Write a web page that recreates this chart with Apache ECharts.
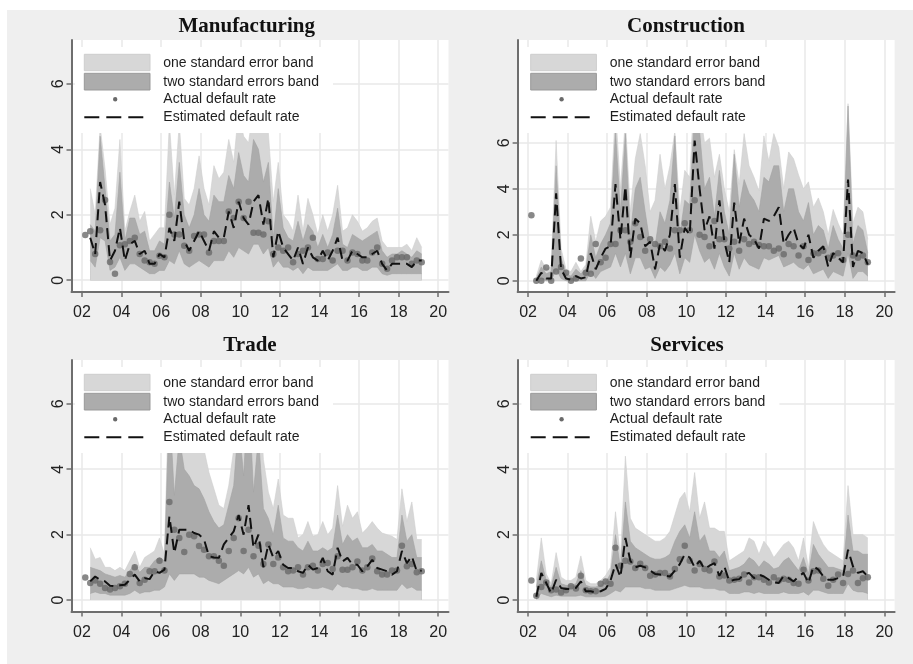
<!DOCTYPE html>
<html><head><meta charset="utf-8">
<script src="https://cdn.jsdelivr.net/npm/echarts@6/dist/echarts.min.js"></script>
<style>html,body{margin:0;padding:0;background:#fff}#c{width:913px;height:664px}</style>
</head><body><div id="c"></div>
<script>
// quarter-end months, 2002-03 .. 2019-03
const quarters = [];
for (let y = 2002; y <= 2019; y++) for (const m of [3, 6, 9, 12]) { if (y === 2019 && m > 3) break; quarters.push(y + '-' + String(m).padStart(2, '0')); }
const xTicks = [2002, 2004, 2006, 2008, 2010, 2012, 2014, 2016, 2018, 2020];
const yTicks = [0, 2, 4, 6];
const legendLabels = ['one standard error band', 'two standard errors band', 'Actual default rate', 'Estimated default rate'];
const panelTitles = ['Manufacturing', 'Construction', 'Trade', 'Services'];
const _ = null;

// Manufacturing
const mfgActual = [1.38,1.5,0.8,1.53, 2.45,0.56,0.2,1.07, 1.1,1.2,1.3,0.8, 0.6,0.55,0.5,0.75, 0.7,2.0,1.4,1.4, 1.05,0.9,1.35,1.4, 1.4,0.85,1.2,1.2, 1.2,2.1,1.9,2.4, 1.9,2.4,1.45,1.45, 1.4,1.8,0.8,1.0, 0.9,1.0,0.55,0.8, 0.9,1.0,1.3,0.65, 0.65,0.85,0.6,0.9, 0.9,0.6,0.85,0.8, 0.6,0.6,0.85,1.0, 0.5,0.35,0.6,0.7, 0.7,0.7,0.5,0.6, 0.55];
const mfgEst = [_,1.3,0.8,3.0, 2.3,0.6,0.9,1.6, 0.6,1.1,1.2,0.8, 0.9,0.5,0.5,0.8, 0.7,1.6,1.2,2.4, 1.2,0.9,1.2,1.5, 1.2,0.9,1.5,1.3, 1.3,2.1,1.6,2.4, 1.9,1.7,2.4,2.6, 1.7,2.5,0.7,1.5, 1.0,0.8,0.6,1.0, 0.5,1.0,0.7,0.6, 0.9,0.6,0.9,1.3, 0.6,0.6,0.9,0.8, 0.7,0.7,0.8,0.9, 0.5,0.3,0.5,0.5, 0.5,0.5,0.4,0.6, 0.6];
const mfgInnerLo = [_,0.6,0.4,1.3, 1.2,0.3,0.4,0.7, 0.3,0.5,0.5,0.4, 0.3,0.2,0.2,0.3, 0.3,0.6,0.5,0.9, 0.5,0.4,0.5,0.6, 0.5,0.4,0.6,0.6, 0.6,0.9,0.7,1.0, 0.9,0.8,1.1,1.1, 0.8,1.0,0.4,0.6, 0.4,0.4,0.3,0.4, 0.2,0.4,0.3,0.3, 0.3,0.3,0.4,0.5, 0.3,0.3,0.4,0.4, 0.3,0.3,0.4,0.4, 0.2,0.15,0.2,0.2, 0.2,0.2,0.2,0.2, 0.2];
const mfgInnerHi = [_,1.7,1.5,4.4, 2.8,1.2,1.4,3.3, 1.2,1.9,1.9,1.4, 1.5,0.9,0.9,1.2, 1.1,3.0,1.9,3.6, 2.0,1.6,2.0,2.8, 2.0,1.8,2.6,2.4, 2.4,3.2,2.8,3.9, 3.2,3.0,4.3,4.0, 3.0,3.6,1.3,2.8, 1.6,1.3,1.2,1.8, 1.2,1.7,1.5,1.0, 1.4,1.0,1.4,2.2, 1.1,1.0,1.4,1.3, 1.2,1.3,1.4,1.5, 0.9,0.7,0.8,0.8, 0.9,0.8,0.7,0.9, 0.8];
const mfgOuterHi = [_,2.8,2.0,4.7, 3.4,1.7,2.2,4.3, 1.5,2.1,2.6,1.8, 2.1,1.2,1.4,1.6, 1.6,4.8,2.6,4.8, 2.5,2.3,2.8,3.8, 2.8,2.3,3.5,3.1, 3.3,4.3,3.6,5.2, 4.4,4.2,5.3,5.4, 5.0,4.5,2.4,3.6, 2.0,1.8,1.5,2.6, 1.5,2.5,2.0,1.4, 2.0,1.5,2.0,2.9, 1.5,1.6,2.0,1.8, 1.5,1.6,1.8,1.9, 1.2,1.0,1.0,1.0, 1.0,1.1,0.9,1.3, 1.0];

// Construction
const conActual = [2.85,0,0,0.58, 0,0.4,0.6,0.35, 0,0.1,0.97,0.35, 0.3,1.6,0.8,1.0, 1.6,1.6,2.2,2.2, 1.7,2.5,1.9,1.3, 1.8,1.6,1.5,1.7, 1.4,2.2,2.2,2.5, 2.2,3.5,2.0,1.9, 1.5,2.6,1.8,1.8, 1.4,1.7,1.3,1.8, 1.6,1.7,1.55,1.5, 1.5,1.3,1.4,1.15, 1.6,1.5,1.1,1.5, 0.9,1.2,1.2,1.3, 1.0,1.1,1.2,0.9, 2.0,1.1,1.0,1.1, 0.8];
const conEst = [_,0,0.35,0.1, 0.1,3.8,0.5,0.1, 0.05,0.2,0.1,0.15, 1.2,0.5,1.0,1.4, 1.5,4.2,1.8,4.1, 1.0,2.7,2.5,1.5, 1.7,0.5,1.6,1.3, 2.0,4.2,1.0,2.3, 2.0,6.1,4.0,2.2, 2.8,1.4,3.5,1.7, 0.8,3.4,1.6,2.7, 2.0,1.8,1.4,2.7, 2.6,2.8,3.2,1.6, 2.0,2.3,1.6,1.4, 2.0,1.0,1.3,1.5, 0.6,1.2,1.0,0.8, 4.4,0.6,1.3,1.2, 0.7];
const conInnerLo = [_,0,0.1,0, 0,0.5,0.1,0, 0,0,0,0, 0.4,0.1,0.4,0.5, 0.6,1.2,0.6,1.2, 0.3,1.0,1.0,0.5, 0.6,0.1,0.6,0.4, 0.7,1.2,0.3,1.0, 0.8,2.0,1.3,0.8, 1.0,0.5,1.2,0.6, 0.2,1.2,0.5,1.0, 0.7,0.6,0.5,1.0, 0.9,1.0,1.1,0.6, 0.7,0.8,0.6,0.5, 0.7,0.3,0.4,0.5, 0.1,0.4,0.3,0.2, 1.2,0.1,0.4,0.4, 0.2];
const conInnerHi = [_,0.1,0.6,0.3, 0.4,5.0,1.0,0.3, 0.2,0.5,0.3,0.5, 2.0,1.0,1.6,2.0, 2.5,6.5,3.0,6.4, 2.0,4.0,4.5,3.0, 1.6,1.5,3.0,2.5, 3.5,6.3,2.0,3.5, 3.3,7.5,6.5,4.0, 4.5,2.8,4.8,3.0, 2.0,5.5,3.2,4.4, 3.8,3.5,3.0,4.5, 4.3,5.0,5.0,3.0, 4.0,4.0,3.0,2.6, 3.4,2.0,2.4,2.2, 1.4,2.4,1.8,1.4, 7.6,1.6,2.4,2.2, 1.2];
const conOuterHi = [_,0.2,0.9,0.5, 0.6,6.1,1.4,0.5, 0.4,0.8,0.4,0.7, 2.8,1.7,2.6,2.8, 3.2,7.5,4.0,7.0, 3.0,5.3,6.4,5.0, 3.0,3.5,5.5,4.0, 5.0,6.5,3.0,4.8, 4.5,8.5,7.5,6.0, 6.2,4.5,5.5,4.0, 3.0,5.7,4.2,6.4, 5.0,4.5,3.9,6.3, 5.2,6.4,5.8,4.0, 5.6,5.3,4.6,4.0, 4.3,3.2,3.6,3.0, 2.0,3.1,2.5,2.0, 7.7,2.5,3.2,3.0, 1.8];

// Trade
const trdActual = [0.69,0.52,0.6,0.5, 0.37,0.32,0.37,0.42, 0.5,0.8,1.0,0.52, 0.62,0.88,0.88,1.2, 0.9,3.0,2.15,1.9, 1.47,2.0,1.95,1.65, 1.54,1.34,1.34,1.2, 1.05,1.5,1.9,2.5, 1.5,2.15,1.34,1.66, 1.1,1.7,1.1,1.3, 1.0,0.88,0.9,1.0, 0.78,1.0,1.05,0.9, 1.1,1.13,0.95,1.34, 0.93,0.93,1.0,1.18, 0.9,1.0,1.27,0.88, 0.78,0.78,0.9,0.9, 1.66,1.03,1.1,0.85, 0.88];
const trdEst = [_,0.57,0.72,0.62, 0.57,0.44,0.42,0.45, 0.47,0.62,0.78,0.57, 0.67,0.64,0.88,0.83, 0.93,2.56,1.44,2.15, 2.15,2.15,2.05,2.0, 1.85,1.34,1.3,1.29, 1.7,1.9,2.1,2.6, 2.0,2.9,1.6,2.0, 1.0,1.7,1.3,1.5, 1.08,0.98,0.98,0.88, 0.83,1.08,0.93,0.98, 1.29,0.88,0.78,1.6, 1.18,1.29,1.08,1.08, 0.88,1.03,1.23,0.98, 0.93,0.88,0.78,0.88, 1.5,1.13,1.34,0.88, 0.9];
const trdInnerLo = [_,0.2,0.25,0.2, 0.2,0.15,0.15,0.15, 0.15,0.2,0.3,0.2, 0.25,0.25,0.3,0.3, 0.4,0.8,0.6,0.8, 0.8,0.8,0.8,0.7, 0.7,0.6,0.55,0.5, 0.6,0.7,0.8,0.9, 0.8,1.0,0.7,0.8, 0.5,0.6,0.5,0.5, 0.4,0.4,0.4,0.35, 0.35,0.4,0.35,0.35, 0.4,0.35,0.3,0.5, 0.4,0.4,0.35,0.35, 0.3,0.3,0.35,0.3, 0.3,0.3,0.3,0.3, 0.5,0.35,0.4,0.3, 0.3];
const trdInnerHi = [_,1.0,0.95,0.9, 0.8,0.75,0.7,0.75, 0.7,0.9,1.1,0.85, 1.0,1.0,1.2,1.3, 1.2,6.0,3.2,5.0, 4.0,3.8,3.5,3.4, 3.1,2.7,2.4,2.2, 2.3,2.9,3.5,5.5, 3.8,6.5,3.3,5.0, 2.8,2.5,2.0,2.9, 1.9,1.8,1.8,1.6, 1.5,1.8,1.5,1.5, 1.6,1.5,1.6,2.6, 1.7,2.0,1.8,1.9, 1.6,1.6,1.7,1.5, 1.5,1.4,1.3,1.3, 2.6,1.8,2.0,1.3, 1.3];
const trdOuterHi = [_,1.6,1.25,1.3, 1.0,1.0,0.9,1.0, 0.9,1.2,1.5,1.0, 1.3,1.4,1.5,1.9, 1.4,7.0,4.5,7.0, 6.0,6.5,5.0,5.2, 4.6,3.9,3.4,2.9, 2.8,3.5,4.6,7.0, 5.0,7.0,4.5,7.0, 4.3,3.3,2.8,3.7, 2.6,2.5,2.5,1.9, 2.0,2.4,1.95,2.0, 2.4,2.0,2.2,3.5, 2.25,2.9,2.5,2.7, 2.05,2.2,2.4,2.2, 2.05,2.0,1.95,1.85, 3.4,2.4,3.0,1.85, 1.85];

// Services
const srvActual = [0.6,0.13,0.4,0.54, 0.3,0.32,0.23,0.3, 0.42,0.35,0.74,0.3, 0.27,0.27,0.5,0.57, 0.5,1.6,1.05,1.2, 1.18,0.98,1.11,0.98, 0.74,0.78,0.83,0.83, 0.72,0.95,1.25,1.66, 1.2,0.9,1.1,0.95, 0.9,1.18,0.72,0.75, 0.6,0.62,0.65,0.78, 0.54,0.7,0.7,0.62, 0.54,0.7,0.6,0.65, 0.62,0.52,0.5,0.93, 0.6,0.88,0.9,0.65, 0.44,0.62,0.78,0.52, 0.8,0.9,0.52,0.67, 0.7];
const srvEst = [_,0.1,0.83,0.52, 0.21,0.62,0.37,0.34, 0.34,0.37,0.57,0.27, 0.27,0.23,0.27,0.34, 0.6,1.1,0.7,1.9, 1.2,1.0,1.05,1.0, 0.9,0.8,0.78,0.75, 0.72,0.9,1.1,1.4, 1.3,1.0,1.2,0.95, 1.05,1.13,0.74,1.03, 0.57,0.62,0.64,0.78, 0.83,0.67,0.78,0.72, 0.62,0.54,0.52,0.74, 0.67,0.57,0.72,0.83, 0.52,1.03,0.93,0.72, 0.62,0.62,0.67,0.72, 1.54,1.03,0.83,0.88, 0.72];
const srvInnerLo = [_,0.05,0.2,0.15, 0.1,0.15,0.12,0.12, 0.12,0.12,0.15,0.1, 0.1,0.1,0.1,0.12, 0.2,0.3,0.25,0.4, 0.4,0.4,0.4,0.35, 0.35,0.3,0.3,0.3, 0.3,0.35,0.4,0.45, 0.4,0.4,0.4,0.35, 0.35,0.35,0.3,0.3, 0.2,0.2,0.2,0.25, 0.25,0.2,0.25,0.2, 0.2,0.2,0.2,0.25, 0.2,0.2,0.2,0.25, 0.15,0.3,0.3,0.25, 0.2,0.2,0.2,0.2, 0.5,0.3,0.25,0.25, 0.2];
const srvInnerHi = [_,0.4,1.2,0.6, 0.4,1.0,0.5,0.45, 0.45,0.5,0.9,0.45, 0.4,0.4,0.45,0.55, 0.8,2.0,1.0,3.0, 1.8,1.6,1.5,1.4, 1.3,1.25,1.25,1.3, 1.4,1.8,2.1,2.3, 1.9,2.7,1.8,2.0, 1.5,1.5,1.3,1.5, 0.9,0.95,1.0,1.1, 1.3,1.2,1.0,1.2, 1.1,0.95,1.0,1.2, 1.3,1.1,0.9,1.3, 0.8,1.7,1.4,1.2, 1.0,1.0,0.95,0.9, 2.6,1.5,1.5,1.4, 1.4];
const srvOuterHi = [_,0.6,1.9,0.8, 0.5,1.45,0.7,0.6, 0.6,0.7,1.35,0.6, 0.5,0.5,0.6,0.75, 1.0,2.7,1.3,4.4, 2.5,2.2,2.1,2.0, 1.9,1.8,1.8,1.9, 2.1,2.6,3.1,3.3, 2.7,3.9,2.5,3.0, 2.2,2.2,2.1,2.1, 1.2,1.3,1.4,1.5, 1.9,1.8,1.4,1.8, 1.6,1.3,1.5,1.7, 1.8,1.6,1.2,1.9, 1.0,2.4,2.0,1.7, 1.5,1.4,1.3,1.2, 3.5,2.0,2.0,2.0, 1.9];

const panels = [
  { title: panelTitles[0], actual: mfgActual, est: mfgEst, innerLo: mfgInnerLo, innerHi: mfgInnerHi, outerHi: mfgOuterHi, ymin: -0.36, ymax: 7.34 },
  { title: panelTitles[1], actual: conActual, est: conEst, innerLo: conInnerLo, innerHi: conInnerHi, outerHi: conOuterHi, ymin: -0.49, ymax: 10.47 },
  { title: panelTitles[2], actual: trdActual, est: trdEst, innerLo: trdInnerLo, innerHi: trdInnerHi, outerHi: trdOuterHi, ymin: -0.35, ymax: 7.34 },
  { title: panelTitles[3], actual: srvActual, est: srvEst, innerLo: srvInnerLo, innerHi: srvInnerHi, outerHi: srvOuterHi, ymin: -0.35, ymax: 7.34 }
];

const LIGHT = '#d7d7d7', DARK = '#acacac', DOT = '#6a6a6a', LINE = '#111111', GRIDC = '#e9e9e9', AXISC = '#6e6e6e';
const FONT = 'Liberation Sans, Arial, sans-serif';
const layout = [
  { left: 71.5, top: 40, ox: 0, oy: 0, tx: 246.7, ty: 16 },
  { left: 517.6, top: 40, ox: 446.4, oy: 0, tx: 686, ty: 16 },
  { left: 71.5, top: 360, ox: 0, oy: 320, tx: 250, ty: 335 },
  { left: 517.6, top: 360, ox: 446.4, oy: 320, tx: 687, ty: 335 }
];
const xOf = q => { const [y, m] = q.split('-').map(Number); return y + (m - 1) / 12; };
const pairs = arr => quarters.map((q, i) => [xOf(q), arr[i]]);

const grid = [], xAxis = [], yAxis = [], series = [], title = [], graphic = [];
graphic.push({ type: 'rect', shape: { x: 0, y: 0, width: 913, height: 10 }, style: { fill: '#ffffff' }, z: -10, silent: true });
graphic.push({ type: 'rect', shape: { x: 0, y: 0, width: 7, height: 664 }, style: { fill: '#ffffff' }, z: -10, silent: true });

panels.forEach((p, g) => {
  const L = layout[g];
  grid.push({ left: L.left, top: L.top, width: 377, height: g < 2 ? 252 : 251.5, show: true, backgroundColor: '#ffffff', borderWidth: 0, containLabel: false, outerBoundsMode: 'none' });
  xAxis.push({
    type: 'value', gridIndex: g, min: 2001.47, max: 2020.52,
    axisLine: { show: true, onZero: false, lineStyle: { color: AXISC, width: 2 } },
    axisTick: { show: true, length: 5, customValues: xTicks, lineStyle: { color: AXISC, width: 1.5 } },
    axisLabel: { show: true, customValues: xTicks, margin: 13, fontSize: 16, fontFamily: FONT, color: '#222',
      formatter: v => String(Math.round(v) % 100).padStart(2, '0') },
    splitLine: { show: true, customValues: xTicks, lineStyle: { color: GRIDC, width: 1.5 } }
  });
  yAxis.push({
    type: 'value', gridIndex: g, min: p.ymin, max: p.ymax,
    axisLine: { show: true, onZero: false, lineStyle: { color: AXISC, width: 2 } },
    axisTick: { show: true, length: 5, customValues: yTicks, lineStyle: { color: AXISC, width: 1.5 } },
    axisLabel: { show: true, customValues: yTicks, rotate: 90, margin: 5, fontSize: 16, fontFamily: FONT, color: '#222' },
    splitLine: { show: true, customValues: yTicks, lineStyle: { color: GRIDC, width: 1.5 } }
  });
  const base = { xAxisIndex: g, yAxisIndex: g, silent: true, animation: false };
  series.push(Object.assign({ type: 'line', name: legendLabels[0], data: pairs(p.outerHi), showSymbol: false, symbol: 'none',
    lineStyle: { width: 0.6, color: '#cfcfcf' }, areaStyle: { color: LIGHT, opacity: 1 }, z: 2 }, base));
  series.push(Object.assign({ type: 'line', name: legendLabels[1], data: pairs(p.innerHi), showSymbol: false, symbol: 'none',
    lineStyle: { width: 0.6, color: '#a2a2a2' }, areaStyle: { color: DARK, opacity: 1 }, z: 3 }, base));
  series.push(Object.assign({ type: 'line', name: 'inner band lower edge', data: pairs(p.innerLo), showSymbol: false, symbol: 'none',
    lineStyle: { width: 0.6, color: '#a2a2a2' }, areaStyle: { color: LIGHT, opacity: 1 }, z: 4 }, base));
  series.push(Object.assign({ type: 'scatter', name: legendLabels[2], data: pairs(p.actual), symbol: 'circle', symbolSize: 6.5,
    itemStyle: { color: DOT }, z: 5 }, base));
  series.push(Object.assign({ type: 'line', name: legendLabels[3], data: pairs(p.est), showSymbol: false, symbol: 'none',
    lineStyle: { width: 2, color: LINE, type: [11, 6] }, z: 6 }, base));

  title.push({ text: p.title, left: L.tx, top: L.ty, textAlign: 'center', padding: 0,
    textStyle: { fontFamily: 'Liberation Serif, Times New Roman, serif', fontWeight: 'bold', fontSize: 21, color: '#111' } });

  const ox = L.ox, oy = L.oy;
  graphic.push({ type: 'rect', shape: { x: 75 + ox, y: 47 + oy, width: 258, height: 86 }, style: { fill: '#ffffff' }, z: 100, silent: true });
  graphic.push({ type: 'rect', shape: { x: 84.3 + ox, y: 54.3 + oy, width: 65.7, height: 16.4 }, style: { fill: LIGHT, stroke: '#cdcdcd', lineWidth: 1 }, z: 101, silent: true });
  graphic.push({ type: 'rect', shape: { x: 84.3 + ox, y: 73.3 + oy, width: 65.7, height: 16.7 }, style: { fill: DARK, stroke: '#999999', lineWidth: 1 }, z: 101, silent: true });
  graphic.push({ type: 'circle', shape: { cx: 115.2 + ox, cy: 99.3 + oy, r: 2.2 }, style: { fill: DOT }, z: 101, silent: true });
  graphic.push({ type: 'line', shape: { x1: 84.3 + ox, y1: 117.3 + oy, x2: 150 + ox, y2: 117.3 + oy }, style: { stroke: LINE, lineWidth: 2, lineDash: [15, 7] }, z: 101, silent: true });
  [62.7, 81.7, 99.3, 117.3].forEach((ty, k) => {
    graphic.push({ type: 'text', x: 163.3 + ox, y: ty + oy, style: { text: legendLabels[k], fill: '#1e1e1e', font: '14px ' + FONT, textVerticalAlign: 'middle', verticalAlign: 'middle' }, z: 102, silent: true });
  });
});

const chart = echarts.init(document.getElementById('c'), null, { renderer: 'canvas' });
chart.setOption({ backgroundColor: '#efefef', animation: false, title, grid, xAxis, yAxis, series, graphic, tooltip: { show: false } });
</script></body></html>
